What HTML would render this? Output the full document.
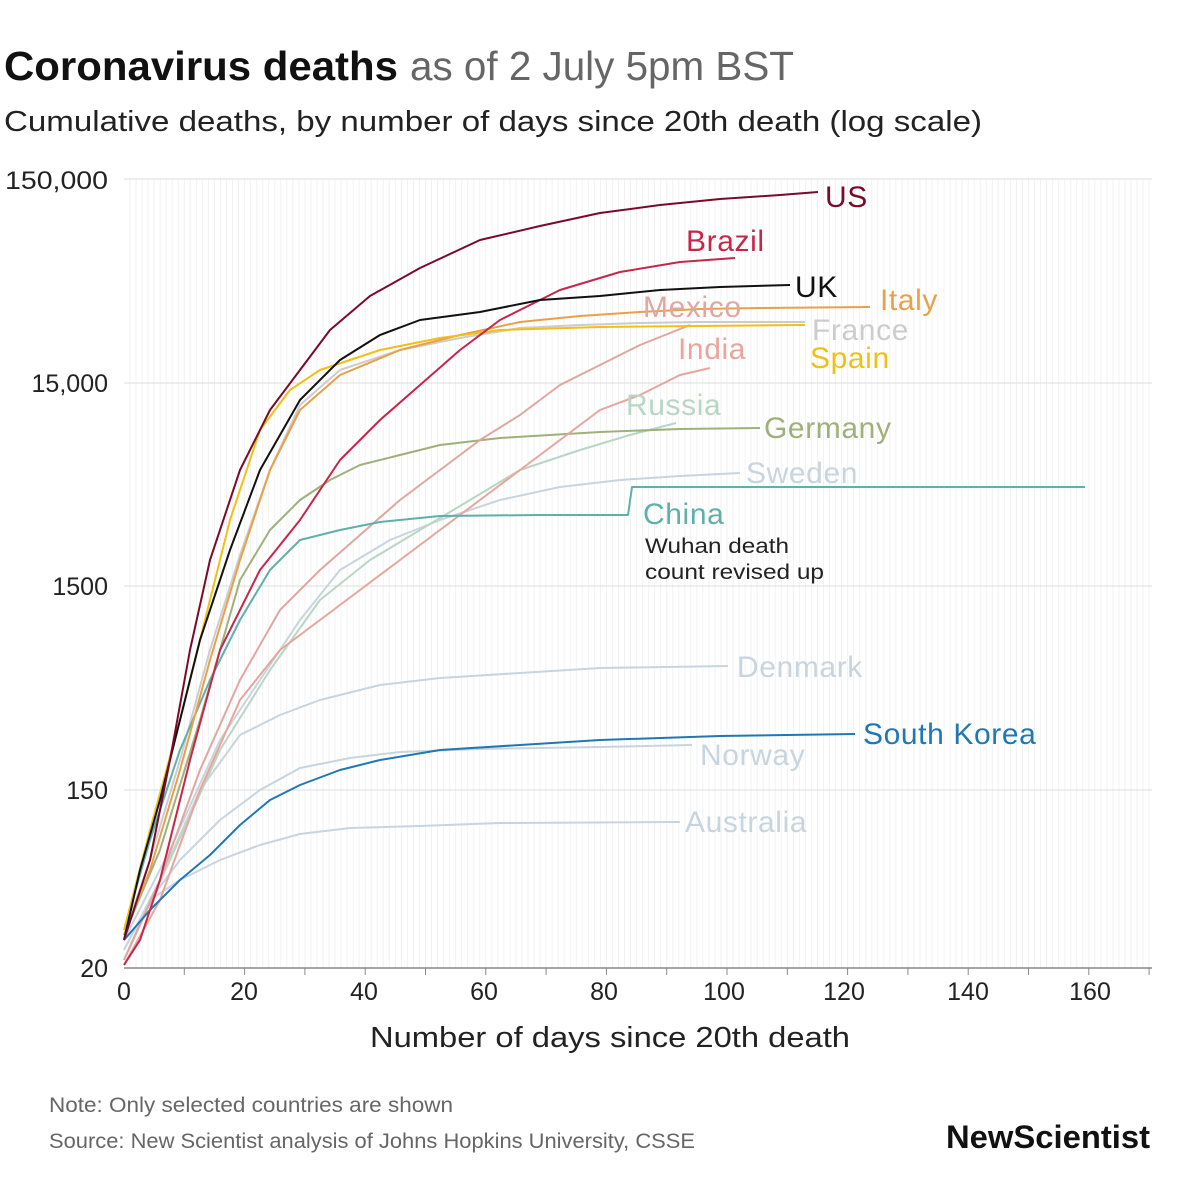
<!DOCTYPE html>
<html><head><meta charset="utf-8"><style>
body{margin:0;background:#fff;}
svg{display:block;font-family:"Liberation Sans",sans-serif;}
</style></head><body>
<svg width="1200" height="1200" viewBox="0 0 1200 1200">
<text x="4" y="80" font-size="41" font-weight="bold" fill="#111" textLength="394" lengthAdjust="spacingAndGlyphs">Coronavirus deaths</text>
<text x="410" y="80" font-size="41" fill="#666" textLength="384" lengthAdjust="spacingAndGlyphs">as of 2 July 5pm BST</text>
<text x="4" y="131" font-size="29" fill="#222" textLength="978" lengthAdjust="spacingAndGlyphs">Cumulative deaths, by number of days since 20th death (log scale)</text>
<g stroke="#f2f2f2" stroke-width="1" id="vg"></g>
<g stroke="#ddd" stroke-width="1">
<line x1="124" y1="179" x2="1152" y2="179"/><line x1="124" y1="383" x2="1152" y2="383"/>
<line x1="124" y1="586" x2="1152" y2="586"/><line x1="124" y1="790" x2="1152" y2="790"/>
</g>
<line x1="124" y1="968" x2="1152" y2="968" stroke="#888" stroke-width="1.5"/>
<g id="ticks" stroke="#888"></g>
<g font-size="25" fill="#222" text-anchor="end">
<text x="108" y="189" textLength="103" lengthAdjust="spacingAndGlyphs">150,000</text><text x="108" y="392">15,000</text>
<text x="108" y="595">1500</text><text x="108" y="799">150</text><text x="108" y="977">20</text>
</g>
<g font-size="25" fill="#222" text-anchor="middle">
<text x="124" y="1000">0</text><text x="244" y="1000">20</text><text x="364" y="1000">40</text>
<text x="484" y="1000">60</text><text x="604" y="1000">80</text><text x="724" y="1000">100</text>
<text x="844" y="1000">120</text><text x="968" y="1000">140</text><text x="1090" y="1000">160</text>
</g>
<text x="370" y="1047" font-size="29" fill="#222" textLength="480" lengthAdjust="spacingAndGlyphs">Number of days since 20th death</text>
<g fill="none" stroke-width="2" stroke-linejoin="round">
<polyline stroke="#c8d4de" points="124,960 150,900 180,880 220,860 260,845 300,834 350,828 420,826 500,823 680,822"/>
<polyline stroke="#c8d4de" points="124,950 150,900 180,860 220,820 260,790 300,768 350,758 400,752 480,749 600,747 692,745"/>
<polyline stroke="#c8d4de" points="124,950 160,880 200,790 240,735 280,715 320,700 380,685 440,678 520,673 600,668 728,666"/>
<polyline stroke="#c8d4de" points="124,940 170,850 220,740 260,680 300,620 340,570 390,540 440,520 500,500 560,487 620,480 680,476 740,473"/>
<polyline stroke="#ccc" points="124,935 150,860 180,760 210,650 240,555 270,470 300,405 340,370 400,350 460,338 520,328 580,325 640,323 700,322 805,322"/>
<polyline stroke="#b9d6c4" points="124,960 170,860 220,750 270,670 320,600 370,560 420,530 470,500 520,470 580,450 630,435 676,423"/>
<polyline stroke="#a0b07a" points="124,935 160,850 200,720 240,580 270,530 300,500 330,480 360,465 400,455 440,445 500,438 600,432 680,429 760,428"/>
<polyline stroke="#e8a59d" points="124,965 160,900 200,790 240,700 280,650 320,620 360,590 400,560 440,530 480,500 520,470 560,440 600,410 640,395 680,375 710,368"/>
<polyline stroke="#e0a7a0" points="124,960 160,880 200,770 240,680 280,610 320,570 360,535 400,500 440,470 480,440 520,415 560,385 600,365 640,345 690,325"/>
<polyline stroke="#5fb0a8" points="124,930 150,840 180,750 210,680 240,620 270,570 300,540 340,530 380,522 440,516 540,515 628,515 632,487 1085,487"/>
<polyline stroke="#1f78b4" points="124,940 150,910 180,880 210,855 240,825 270,800 300,785 340,770 380,760 440,750 520,745 600,740 720,736 855,734"/>
<polyline stroke="#e8a04a" points="124,935 150,870 180,770 210,660 240,560 270,470 300,410 340,375 400,350 460,335 520,322 580,316 640,312 700,309 760,308 870,307"/>
<polyline stroke="#f0c018" points="124,930 150,830 180,720 200,640 230,520 260,430 290,390 320,370 380,350 440,338 500,330 600,327 700,326 805,325"/>
<polyline stroke="#c8254a" points="124,965 140,940 160,880 190,760 220,650 260,570 300,520 340,460 380,420 420,385 460,350 500,320 560,290 620,272 680,262 735,258"/>
<polyline stroke="#111" points="124,940 140,870 160,800 180,720 200,640 230,550 260,470 300,400 340,360 380,335 420,320 480,312 540,300 600,296 660,290 720,287 790,285"/>
<polyline stroke="#7a0a2a" points="124,940 150,860 170,760 190,650 210,560 240,470 270,410 300,370 330,330 370,296 420,268 480,240 540,226 600,213 660,205 720,199 780,195 818,192"/>
</g>
<g font-size="30" letter-spacing="0.6">
<text x="825" y="207" fill="#7a0a2a">US</text>
<text x="686" y="251" fill="#c8254a">Brazil</text>
<text x="795" y="297" fill="#111">UK</text>
<text x="880" y="310" fill="#e8a04a">Italy</text>
<text x="643" y="317" fill="#e0a7a0">Mexico</text>
<text x="812" y="340" fill="#ccc">France</text>
<text x="678" y="359" fill="#e8a59d">India</text>
<text x="810" y="368" fill="#f0c018">Spain</text>
<text x="626" y="415" fill="#b9d6c4">Russia</text>
<text x="764" y="438" fill="#a0b07a">Germany</text>
<text x="746" y="483" fill="#c8d4de">Sweden</text>
<text x="643" y="524" fill="#5fb0a8">China</text>
<text x="737" y="677" fill="#c8d4de">Denmark</text>
<text x="863" y="744" fill="#1f78b4">South Korea</text>
<text x="700" y="765" fill="#c8d4de">Norway</text>
<text x="685" y="832" fill="#c8d4de">Australia</text>
</g>
<text x="645" y="553" font-size="21" fill="#222" textLength="144" lengthAdjust="spacingAndGlyphs">Wuhan death</text>
<text x="645" y="579" font-size="21" fill="#222" textLength="179" lengthAdjust="spacingAndGlyphs">count revised up</text>
<text x="49" y="1112" font-size="21" fill="#666" textLength="404" lengthAdjust="spacingAndGlyphs">Note: Only selected countries are shown</text>
<text x="49" y="1148" font-size="21" fill="#666" textLength="646" lengthAdjust="spacingAndGlyphs">Source: New Scientist analysis of Johns Hopkins University, CSSE</text>
<text x="946" y="1148" font-size="32" font-weight="bold" fill="#111" textLength="204" lengthAdjust="spacingAndGlyphs">NewScientist</text>
<script>
var vg=document.getElementById('vg'),tk=document.getElementById('ticks'),ns='http://www.w3.org/2000/svg';
for(var d=1;d<=170;d++){var x=124+d*6.03;if(x>1152)break;var l=document.createElementNS(ns,'line');l.setAttribute('x1',x);l.setAttribute('x2',x);l.setAttribute('y1',179);l.setAttribute('y2',968);vg.appendChild(l);
if(d%10==0){var t=document.createElementNS(ns,'line');t.setAttribute('x1',x);t.setAttribute('x2',x);t.setAttribute('y1',968);t.setAttribute('y2',975);tk.appendChild(t);}}
</script>
</svg>
</body></html>
